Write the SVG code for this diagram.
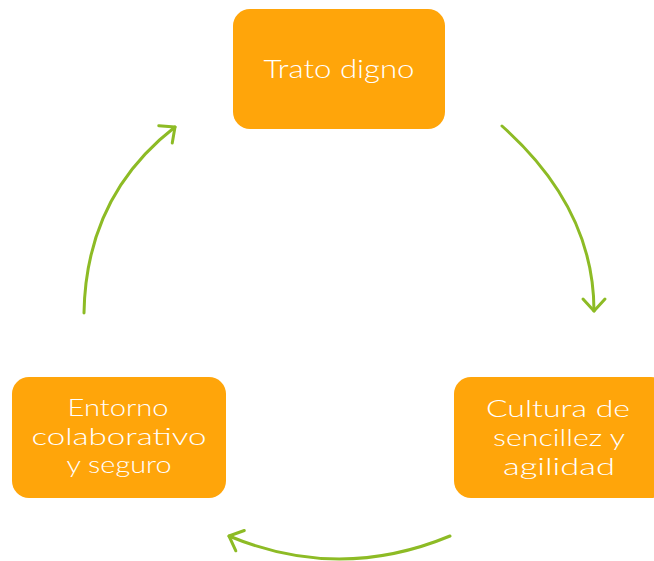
<svg xmlns="http://www.w3.org/2000/svg" width="654" height="561" viewBox="0 0 654 561">
<defs>
<style>
.box{fill:#FFA50A;}
.lbl{fill:#FFFFFF;font-family:Lato,"Open Sans","DejaVu Sans",sans-serif;font-weight:300;font-size:26px;text-anchor:middle;}
.ml{font-size:24px;}
.arr{fill:none;stroke:#8DBB25;stroke-width:3;stroke-linecap:round;}
</style>
<marker id="head" markerUnits="userSpaceOnUse" markerWidth="30" markerHeight="30" refX="15" refY="15" orient="auto" viewBox="0 0 30 30">
<path d="M3,4 L15,15 L3,26" fill="none" stroke="#8DBB25" stroke-width="3" stroke-linecap="round" stroke-linejoin="round"/>
</marker>
</defs>
<rect width="654" height="561" fill="#FFFFFF"/>
<g id="connectors">
<path class="arr" d="M502,126 Q594,208 594,311" marker-end="url(#head)"/>
<path class="arr" d="M450,536 Q339,582 229,536" marker-end="url(#head)"/>
<path class="arr" d="M84,313 Q86,196 175,127" marker-end="url(#head)"/>
</g>
<g id="node-trato">
<rect class="box" x="233" y="9" width="212" height="120" rx="17"/>
<text class="lbl" x="339" y="78" textLength="151" lengthAdjust="spacingAndGlyphs">Trato digno</text>
</g>
<g id="node-cultura">
<rect class="box" x="454" y="377" width="214" height="121" rx="17"/>
<text class="lbl ml" x="558" y="417" textLength="144" lengthAdjust="spacingAndGlyphs">Cultura de</text>
<text class="lbl ml" x="559" y="446" textLength="132" lengthAdjust="spacingAndGlyphs">sencillez y</text>
<text class="lbl ml" x="559" y="475" textLength="112" lengthAdjust="spacingAndGlyphs">agilidad</text>
</g>
<g id="node-entorno">
<rect class="box" x="12" y="377" width="214" height="121" rx="17"/>
<text class="lbl ml" x="118" y="416" textLength="101" lengthAdjust="spacingAndGlyphs">Entorno</text>
<text class="lbl ml" x="119" y="445" textLength="175" lengthAdjust="spacingAndGlyphs">colaborativo</text>
<text class="lbl ml" x="119" y="473" textLength="105" lengthAdjust="spacingAndGlyphs">y seguro</text>
</g>
</svg>
